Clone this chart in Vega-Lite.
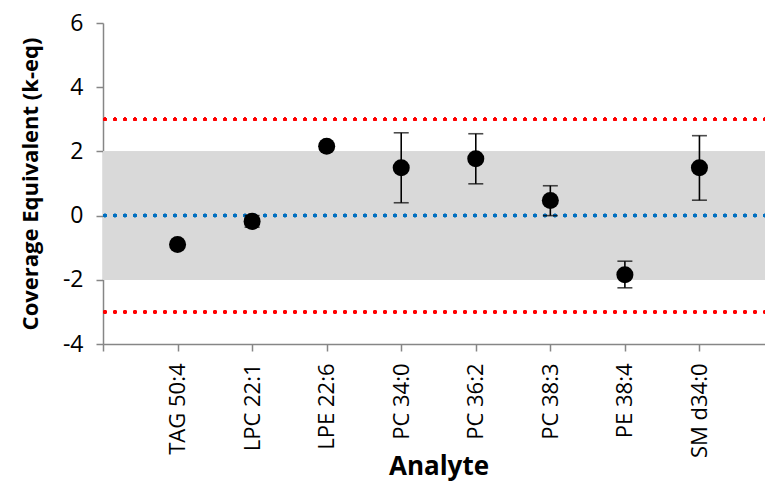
{
  "$schema": "https://vega.github.io/schema/vega-lite/v6.json",
  "width": 662,
  "height": 321,
  "autosize": "none",
  "padding": {"left": 103, "top": 23, "right": 0, "bottom": 143},
  "background": "white",
  "config": {"view": {"stroke": null}},
  "data": {
    "values": [
      {"analyte": "TAG 50:4", "value": -0.90, "lo": -0.97, "hi": -0.83},
      {"analyte": "LPC 22:1", "value": -0.18, "lo": -0.36, "hi": 0.0},
      {"analyte": "LPE 22:6", "value": 2.16, "lo": 2.10, "hi": 2.22},
      {"analyte": "PC 34:0", "value": 1.49, "lo": 0.40, "hi": 2.58},
      {"analyte": "PC 36:2", "value": 1.77, "lo": 0.99, "hi": 2.55},
      {"analyte": "PC 38:3", "value": 0.47, "lo": 0.0, "hi": 0.93},
      {"analyte": "PE 38:4", "value": -1.84, "lo": -2.25, "hi": -1.42},
      {"analyte": "SM d34:0", "value": 1.49, "lo": 0.48, "hi": 2.49}
    ]
  },
  "encoding": {
    "x": {
      "field": "analyte",
      "type": "nominal",
      "sort": null,
      "scale": {
        "type": "point",
        "domain": [" ", "TAG 50:4", "LPC 22:1", "LPE 22:6", "PC 34:0", "PC 36:2", "PC 38:3", "PE 38:4", "SM d34:0", "  "],
        "padding": 0,
        "range": [0, 671]
      },
      "axis": {
        "title": "Analyte",
        "values": [" ", "TAG 50:4", "LPC 22:1", "LPE 22:6", "PC 34:0", "PC 36:2", "PC 38:3", "PE 38:4", "SM d34:0"],
        "labelAngle": -90,
        "labelFont": "Open Sans",
        "labelFontSize": 22,
        "labelColor": "black",
        "labelPadding": 12,
        "tickSize": 7,
        "tickColor": "#868686",
        "tickWidth": 1.5,
        "domainColor": "#868686",
        "domainWidth": 1.5,
        "titleFont": "Open Sans",
        "titleFontSize": 26,
        "titleFontWeight": "bold",
        "titleColor": "black",
        "titlePadding": -4,
        "grid": false
      }
    }
  },
  "layer": [
    {
      "mark": {"type": "rect", "color": "#D9D9D9"},
      "encoding": {"x": null, "y": {"datum": -2, "type": "quantitative"}, "y2": {"datum": 2}}
    },
    {
      "mark": {"type": "rule", "color": "#FF0000", "strokeWidth": 3.5, "strokeDash": [0, 10], "strokeCap": "round"},
      "encoding": {"x": null, "y": {"datum": 3, "type": "quantitative"}}
    },
    {
      "mark": {"type": "rule", "color": "#FF0000", "strokeWidth": 3.5, "strokeDash": [0, 10], "strokeCap": "round"},
      "encoding": {"x": null, "y": {"datum": -3, "type": "quantitative"}}
    },
    {
      "mark": {"type": "rule", "color": "#0070C0", "strokeWidth": 3.5, "strokeDash": [0, 10], "strokeCap": "round"},
      "encoding": {"x": null, "y": {"datum": 0, "type": "quantitative"}}
    },
    {
      "mark": {"type": "rule", "color": "black", "strokeWidth": 1.6},
      "encoding": {"y": {"field": "lo", "type": "quantitative"}, "y2": {"field": "hi"}}
    },
    {
      "mark": {"type": "tick", "color": "black", "size": 15, "thickness": 1.6, "orient": "horizontal"},
      "encoding": {"y": {"field": "lo", "type": "quantitative"}}
    },
    {
      "mark": {"type": "tick", "color": "black", "size": 15, "thickness": 1.6, "orient": "horizontal"},
      "encoding": {"y": {"field": "hi", "type": "quantitative"}}
    },
    {
      "mark": {"type": "point", "filled": true, "color": "black", "size": 290, "opacity": 1, "shape": "circle"},
      "encoding": {
        "y": {
          "field": "value",
          "type": "quantitative",
          "scale": {"domain": [-4, 6], "nice": false, "zero": false},
          "axis": {
            "title": "Coverage Equivalent (k-eq)",
            "values": [-4, -2, 0, 2, 4, 6],
            "labelExpr": "toString(datum.value)",
            "labelFont": "Open Sans",
            "labelFontSize": 23,
            "labelColor": "black",
            "labelPadding": 13,
            "tickSize": 7,
            "tickColor": "#868686",
            "tickWidth": 1.5,
            "domainColor": "#868686",
            "domainWidth": 1.5,
            "titleFont": "Open Sans",
            "titleFontSize": 22,
            "titleFontWeight": "bold",
            "titleColor": "black",
            "titlePadding": 20,
            "grid": false
          }
        }
      }
    }
  ],
  "resolve": {"scale": {"y": "shared"}}
}
